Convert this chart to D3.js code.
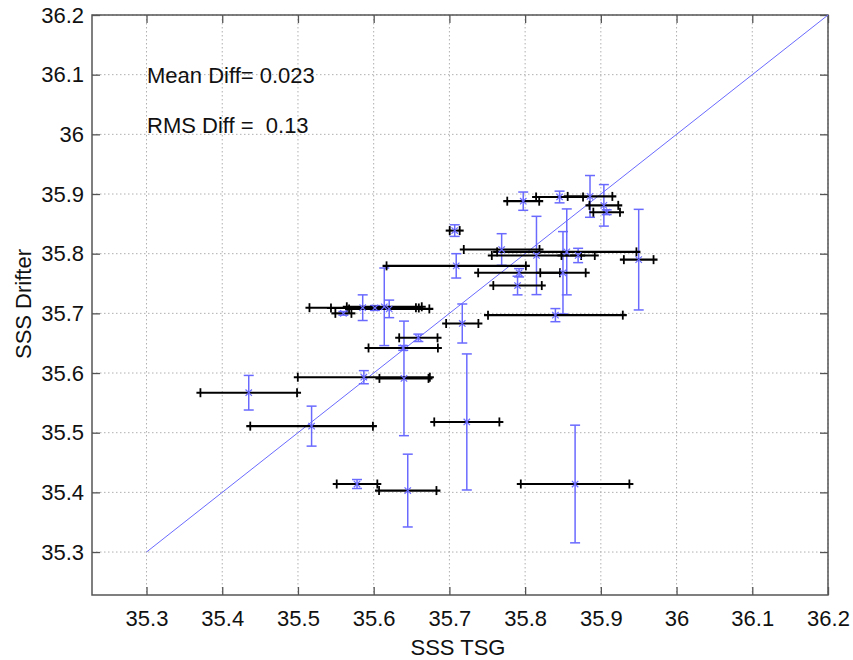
<!DOCTYPE html>
<html>
<head>
<meta charset="utf-8">
<script src="https://cdn.jsdelivr.net/npm/d3@7"></script>
<style>
  html, body { margin: 0; padding: 0; background: #fff; }
  svg text { font-family: "Liberation Sans", Arial, Helvetica, sans-serif; fill: #111; white-space: pre; }
</style>
</head>
<body>
<svg id="chart" width="853" height="660"></svg>
<script>
// ---- data ----
const tsg        = [35.435, 35.518, 35.587, 35.640, 35.578, 35.645, 35.723, 35.866, 35.659, 35.639,
                    35.717, 35.560, 35.5855, 35.614, 35.6205, 35.6016, 35.709, 35.707, 35.769, 35.815,
                    35.855, 35.870, 35.792, 35.850, 35.790, 35.840, 35.950, 35.7975, 35.8455, 35.8857,
                    35.904, 35.9077];
const drifter    = [35.567, 35.511, 35.593, 35.591, 35.414, 35.403, 35.518, 35.414, 35.659, 35.642,
                    35.683, 35.700, 35.7095, 35.711, 35.7075, 35.709, 35.7796, 35.8387, 35.807, 35.797,
                    35.803, 35.797, 35.768, 35.768, 35.7466, 35.697, 35.790, 35.888, 35.895, 35.896,
                    35.881, 35.8695];
const tsgErr     = [0.0638, 0.081, 0.0872, 0.0324, 0.0268, 0.0379, 0.043, 0.0717, 0.0253, 0.0458,
                    0.0213, 0.0106, 0.0703, 0.0495, 0.053, 0.058, 0.092, 0.0066, 0.050, 0.059,
                    0.092, 0.022, 0.054, 0.030, 0.032, 0.089, 0.0196, 0.0211, 0.031, 0.0295,
                    0.019, 0.0176];
const drifterErr = [0.029, 0.0335, 0.011, 0.096, 0.0075, 0.061, 0.114, 0.0986, 0.0062, 0.004,
                    0.0327, 0.003, 0.0215, 0.065, 0.0147, 0.004, 0.0204, 0.0097, 0.0265, 0.0656,
                    0.072, 0.012, 0.007, 0.069, 0.0156, 0.011, 0.0843, 0.0153, 0.0098, 0.035,
                    0.0348, 0.004];
const tickValues = [35.3, 35.4, 35.5, 35.6, 35.7, 35.8, 35.9, 36.0, 36.1, 36.2];
const tickLabels = ["35.3", "35.4", "35.5", "35.6", "35.7", "35.8", "35.9", "36", "36.1", "36.2"];
const domain     = [35.228, 36.2];
const oneToOne   = [35.3, 36.2];
const xLabel = "SSS TSG";
const yLabel = "SSS Drifter";
const notes  = ["Mean Diff= 0.023", "RMS Diff =  0.13"];

// ---- layout ----
const L = 92, T = 15, R = 828, B = 595;
const FS = 22;
const blue = "#6a6aff";
const svg = d3.select("#chart");

const x = d3.scaleLinear().domain(domain).range([L, R]);
const y = d3.scaleLinear().domain(domain).range([B, T]);

// grid
const grid = svg.append("g");
grid.selectAll(".gx").data(tickValues).join("line")
  .attr("x1", d => x(d)).attr("x2", d => x(d)).attr("y1", T).attr("y2", B)
  .attr("stroke", "#b0b0b0").attr("stroke-width", 1).attr("stroke-dasharray", "1.5,2.5");
grid.selectAll(".gy").data(tickValues).join("line")
  .attr("y1", d => y(d)).attr("y2", d => y(d)).attr("x1", L).attr("x2", R)
  .attr("stroke", "#b0b0b0").attr("stroke-width", 1).attr("stroke-dasharray", "1.5,2.5");

// axes
function styleAxis(g) {
  g.select(".domain").remove();
  g.selectAll(".tick line").attr("stroke", "#555").attr("stroke-width", 1.3);
  g.selectAll(".tick text").attr("font-size", FS).attr("fill", "#111");
}
svg.append("g").attr("transform", `translate(0,${B})`)
  .call(d3.axisBottom(x).tickValues(tickValues).tickFormat((d, i) => tickLabels[i]).tickSize(-8).tickPadding(15))
  .call(styleAxis);
svg.append("g").attr("transform", `translate(${L},0)`)
  .call(d3.axisLeft(y).tickValues(tickValues).tickFormat((d, i) => tickLabels[i]).tickSize(-8).tickPadding(8))
  .call(styleAxis);
svg.append("g").attr("transform", `translate(0,${T})`)
  .call(d3.axisTop(x).tickValues(tickValues).tickFormat("").tickSize(-8))
  .call(styleAxis);
svg.append("g").attr("transform", `translate(${R},0)`)
  .call(d3.axisRight(y).tickValues(tickValues).tickFormat("").tickSize(-8))
  .call(styleAxis);

// box
svg.append("rect").attr("x", L).attr("y", T).attr("width", R - L).attr("height", B - T)
  .attr("fill", "none").attr("stroke", "#555").attr("stroke-width", 1.5);

// 1:1 line
svg.append("line")
  .attr("x1", x(oneToOne[0])).attr("y1", y(oneToOne[0]))
  .attr("x2", x(oneToOne[1])).attr("y2", y(oneToOne[1]))
  .attr("stroke", blue).attr("stroke-width", 1);

const pts = tsg.map((v, i) => ({ x: v, y: drifter[i], xe: tsgErr[i], ye: drifterErr[i] }));

// blue vertical error bars
const vb = svg.append("g").attr("stroke", blue).attr("stroke-width", 1.5).attr("fill", "none");
pts.forEach(p => {
  const cx = x(p.x), y1 = y(p.y - p.ye), y2 = y(p.y + p.ye);
  vb.append("line").attr("x1", cx).attr("x2", cx).attr("y1", y1).attr("y2", y2);
  vb.append("line").attr("x1", cx - 5).attr("x2", cx + 5).attr("y1", y1).attr("y2", y1);
  vb.append("line").attr("x1", cx - 5).attr("x2", cx + 5).attr("y1", y2).attr("y2", y2);
});

// black horizontal error bars
const hb = svg.append("g").attr("stroke", "#000").attr("fill", "none");
pts.forEach(p => {
  const cy = y(p.y), x1 = x(p.x - p.xe), x2 = x(p.x + p.xe);
  hb.append("line").attr("x1", x1 - 4).attr("x2", x2 + 4).attr("y1", cy).attr("y2", cy).attr("stroke-width", 2.1);
  hb.append("line").attr("x1", x1).attr("x2", x1).attr("y1", cy - 4.5).attr("y2", cy + 4.5).attr("stroke-width", 1.8);
  hb.append("line").attr("x1", x2).attr("x2", x2).attr("y1", cy - 4.5).attr("y2", cy + 4.5).attr("stroke-width", 1.8);
});

// blue x markers
const mk = svg.append("g").attr("stroke", blue).attr("stroke-width", 1.2);
pts.forEach(p => {
  const cx = x(p.x), cy = y(p.y), s = 3.2;
  mk.append("line").attr("x1", cx - s).attr("x2", cx + s).attr("y1", cy - s).attr("y2", cy + s);
  mk.append("line").attr("x1", cx - s).attr("x2", cx + s).attr("y1", cy + s).attr("y2", cy - s);
});

// annotations
svg.append("text").attr("x", 147).attr("y", 83).attr("font-size", FS).text(notes[0]);
svg.append("text").attr("x", 147).attr("y", 133).attr("font-size", FS).text(notes[1]);

// axis labels
svg.append("text").attr("x", (L + R) / 2 - 2).attr("y", 655).attr("text-anchor", "middle")
  .attr("font-size", FS).text(xLabel);
svg.append("text").attr("transform", "translate(31,304) rotate(-90)").attr("text-anchor", "middle")
  .attr("font-size", FS).text(yLabel);
</script>
</body>
</html>
